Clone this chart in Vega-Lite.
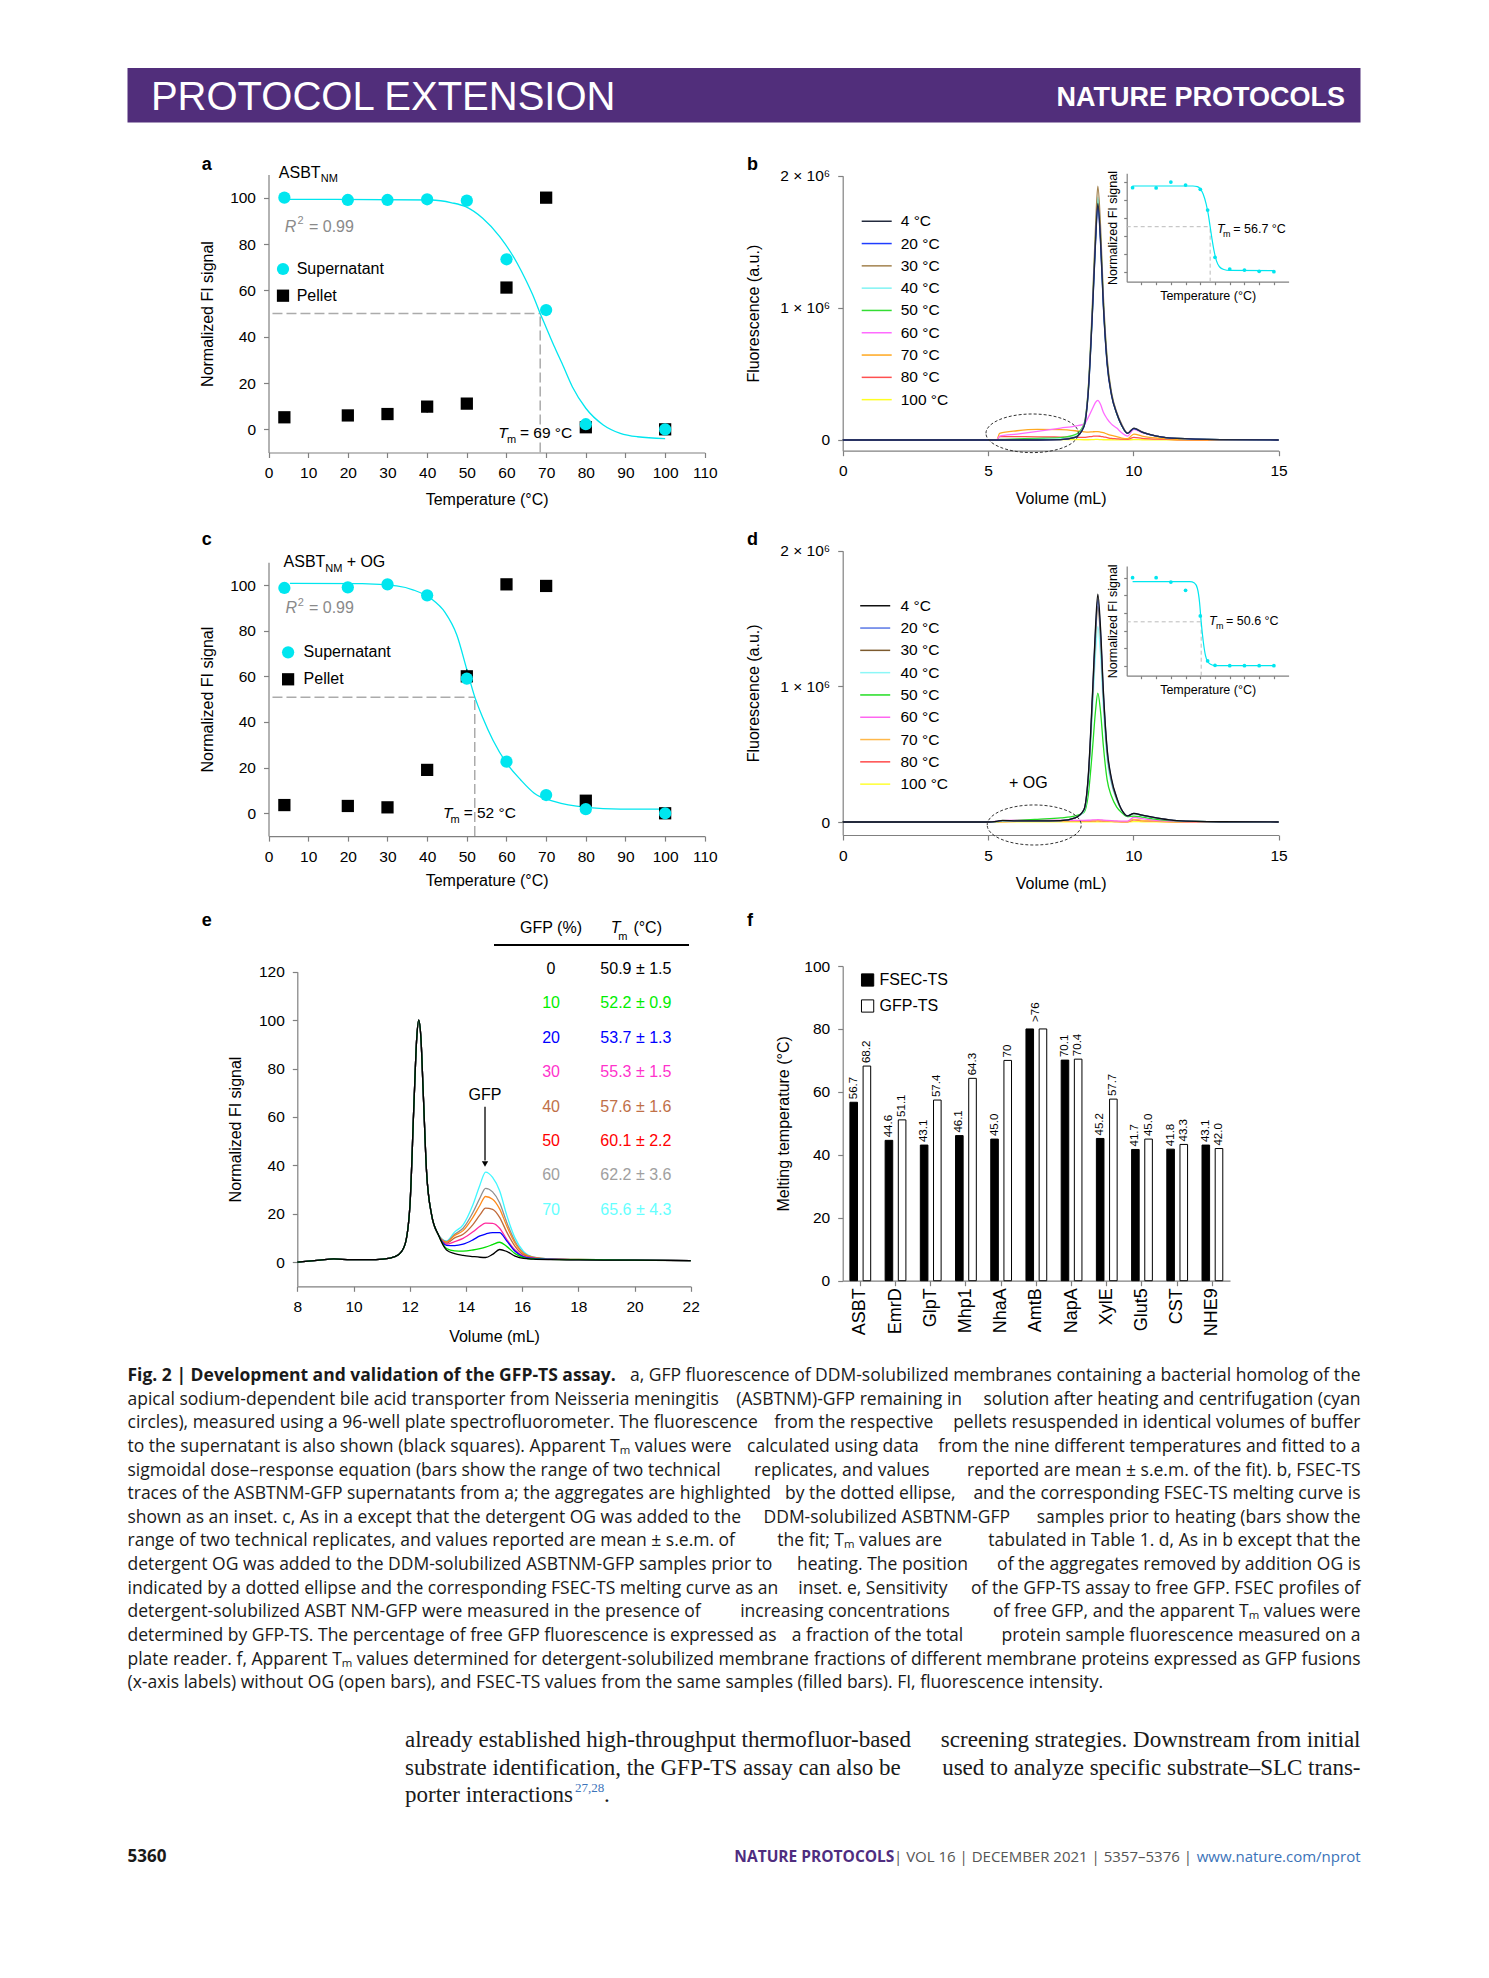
{
"$schema":"https://vega.github.io/schema/vega-lite/v6.json",
"width":1489,"height":1978,"padding":0,"autosize":{"type":"none"},"background":"white",
"data":{"values":[{}]},
"config":{
 "view":{"stroke":null},
 "font":"Liberation Sans",
 "axis":{"domainColor":"#808080","tickColor":"#808080","domainWidth":1.2,"tickWidth":1.2,"tickSize":5,"labelFont":"Liberation Sans","labelFontSize":15.5,"labelColor":"#000000","labelPadding":8,"labelFlush":false,"labelOverlap":false,"titleFont":"Liberation Sans","titleFontSize":16,"titleFontWeight":"normal","titleColor":"#000000","grid":false},
 "legend":{"labelFont":"Liberation Sans","labelColor":"#000000"},
 "text":{"font":"Liberation Sans","color":"#000000"}
},
"resolve":{"scale":{"x":"independent","y":"independent","color":"independent","shape":"independent","fill":"independent","xOffset":"independent"},"axis":{"x":"independent","y":"independent"},"legend":{"color":"independent","shape":"independent","fill":"independent"}},
"datasets":{
 "a":[{"T":4,"v":5.2,"type":"Pellet"},{"T":20,"v":6.0,"type":"Pellet"},{"T":30,"v":6.6,"type":"Pellet"},{"T":40,"v":9.8,"type":"Pellet"},{"T":50,"v":11.1,"type":"Pellet"},{"T":60,"v":61.2,"type":"Pellet"},{"T":70,"v":100,"type":"Pellet"},{"T":80,"v":0.9,"type":"Pellet"},{"T":100,"v":0,"type":"Pellet"},
      {"T":4,"v":100,"type":"Supernatant"},{"T":20,"v":99,"type":"Supernatant"},{"T":30,"v":99,"type":"Supernatant"},{"T":40,"v":99.3,"type":"Supernatant"},{"T":50,"v":98.7,"type":"Supernatant"},{"T":60,"v":73.4,"type":"Supernatant"},{"T":70,"v":51.5,"type":"Supernatant"},{"T":80,"v":2.2,"type":"Supernatant"},{"T":100,"v":0,"type":"Supernatant"}],
 "aFit":[{"T":5.4,"v":99.3},{"T":41,"v":99},{"T":46.2,"v":97.8},{"T":49.7,"v":96.1},{"T":54,"v":91.1},{"T":58.3,"v":83.2},{"T":62.7,"v":71.7},{"T":65,"v":64},{"T":67,"v":56.5},{"T":68.5,"v":50},{"T":70,"v":44},{"T":72,"v":36},{"T":74,"v":28.5},{"T":76.6,"v":18.4},{"T":80,"v":9.1},{"T":84.4,"v":1.9},{"T":88.7,"v":-1.7},{"T":93,"v":-3.2},{"T":100,"v":-4}],
 "aErr":[{"T":40,"lo":7.2,"hi":12}],
 "c":[{"T":4,"v":3.6,"type":"Pellet"},{"T":20,"v":3.2,"type":"Pellet"},{"T":30,"v":2.6,"type":"Pellet"},{"T":40,"v":19,"type":"Pellet"},{"T":50,"v":60,"type":"Pellet"},{"T":60,"v":100.3,"type":"Pellet"},{"T":70,"v":99.6,"type":"Pellet"},{"T":80,"v":5.5,"type":"Pellet"},{"T":100,"v":0,"type":"Pellet"},
      {"T":4,"v":98.7,"type":"Supernatant"},{"T":20,"v":99,"type":"Supernatant"},{"T":30,"v":100.3,"type":"Supernatant"},{"T":40,"v":95.5,"type":"Supernatant"},{"T":50,"v":59,"type":"Supernatant"},{"T":60,"v":22.6,"type":"Supernatant"},{"T":70,"v":8,"type":"Supernatant"},{"T":80,"v":1.8,"type":"Supernatant"},{"T":100,"v":0,"type":"Supernatant"}],
 "cFit":[{"T":5.4,"v":100.7},{"T":23.6,"v":100.6},{"T":32.3,"v":99.6},{"T":36.6,"v":97.8},{"T":41,"v":94},{"T":44.5,"v":88},{"T":47.5,"v":78},{"T":50,"v":63},{"T":52,"v":51},{"T":54,"v":42},{"T":56.6,"v":32},{"T":60,"v":22},{"T":63.6,"v":14.6},{"T":67,"v":8.8},{"T":72.2,"v":5.1},{"T":80,"v":2.6},{"T":88.7,"v":1.8},{"T":100,"v":1.8}],
 "cErr":[{"T":50,"lo":56.6,"hi":63.1}],
 "b":[
  {"v":0,"4 °C":0,"20 °C":0,"30 °C":0,"40 °C":0,"50 °C":0,"60 °C":0,"70 °C":0,"80 °C":0,"100 °C":0},
  {"v":5.0,"4 °C":0,"20 °C":0,"30 °C":0,"40 °C":0,"50 °C":0,"60 °C":0,"70 °C":0,"80 °C":0,"100 °C":0},
  {"v":5.3,"4 °C":0,"20 °C":0,"30 °C":0,"40 °C":0,"50 °C":0,"60 °C":0,"70 °C":0,"80 °C":0,"100 °C":0},
  {"v":5.4,"4 °C":0,"20 °C":0,"30 °C":0,"40 °C":0,"50 °C":0.005,"60 °C":0.03,"70 °C":0.05,"80 °C":0.025,"100 °C":0.002},
  {"v":6.0,"4 °C":0,"20 °C":0,"30 °C":0,"40 °C":0.002,"50 °C":0.008,"60 °C":0.045,"70 °C":0.07,"80 °C":0.025,"100 °C":0.003},
  {"v":6.7,"4 °C":0,"20 °C":0,"30 °C":0,"40 °C":0.005,"50 °C":0.012,"60 °C":0.065,"70 °C":0.08,"80 °C":0.024,"100 °C":0.003},
  {"v":7.5,"4 °C":0.003,"20 °C":0.003,"30 °C":0.003,"40 °C":0.008,"50 °C":0.018,"60 °C":0.09,"70 °C":0.078,"80 °C":0.022,"100 °C":0.003},
  {"v":8.0,"4 °C":0.02,"20 °C":0.02,"30 °C":0.02,"40 °C":0.025,"50 °C":0.04,"60 °C":0.105,"70 °C":0.07,"80 °C":0.02,"100 °C":0.003},
  {"v":8.3,"4 °C":0.1,"20 °C":0.1,"30 °C":0.11,"40 °C":0.11,"50 °C":0.12,"60 °C":0.12,"70 °C":0.062,"80 °C":0.02,"100 °C":0.002},
  {"v":8.45,"4 °C":0.36,"20 °C":0.36,"30 °C":0.39,"40 °C":0.37,"50 °C":0.38,"60 °C":0.17,"70 °C":0.06,"80 °C":0.024,"100 °C":0.002},
  {"v":8.6,"4 °C":1.0,"20 °C":0.99,"30 °C":1.07,"40 °C":1.03,"50 °C":1.02,"60 °C":0.24,"70 °C":0.062,"80 °C":0.028,"100 °C":0.003},
  {"v":8.7,"4 °C":1.5,"20 °C":1.49,"30 °C":1.61,"40 °C":1.54,"50 °C":1.53,"60 °C":0.285,"70 °C":0.063,"80 °C":0.03,"100 °C":0.004},
  {"v":8.78,"4 °C":1.79,"20 °C":1.77,"30 °C":1.92,"40 °C":1.84,"50 °C":1.82,"60 °C":0.3,"70 °C":0.063,"80 °C":0.03,"100 °C":0.004},
  {"v":8.87,"4 °C":1.52,"20 °C":1.5,"30 °C":1.63,"40 °C":1.56,"50 °C":1.55,"60 °C":0.27,"70 °C":0.06,"80 °C":0.028,"100 °C":0.003},
  {"v":8.97,"4 °C":1.02,"20 °C":1.01,"30 °C":1.09,"40 °C":1.05,"50 °C":1.04,"60 °C":0.21,"70 °C":0.055,"80 °C":0.024,"100 °C":0.002},
  {"v":9.1,"4 °C":0.58,"20 °C":0.57,"30 °C":0.62,"40 °C":0.6,"50 °C":0.59,"60 °C":0.16,"70 °C":0.045,"80 °C":0.018,"100 °C":0.002},
  {"v":9.25,"4 °C":0.34,"20 °C":0.34,"30 °C":0.36,"40 °C":0.35,"50 °C":0.35,"60 °C":0.12,"70 °C":0.035,"80 °C":0.012,"100 °C":0.002},
  {"v":9.43,"4 °C":0.2,"20 °C":0.2,"30 °C":0.21,"40 °C":0.2,"50 °C":0.2,"60 °C":0.09,"70 °C":0.025,"80 °C":0.009,"100 °C":0.001},
  {"v":9.6,"4 °C":0.11,"20 °C":0.11,"30 °C":0.12,"40 °C":0.11,"50 °C":0.11,"60 °C":0.055,"70 °C":0.015,"80 °C":0.006,"100 °C":0.001},
  {"v":9.8,"4 °C":0.05,"20 °C":0.05,"30 °C":0.053,"40 °C":0.05,"50 °C":0.05,"60 °C":0.03,"70 °C":0.01,"80 °C":0.005,"100 °C":0.001},
  {"v":10.02,"4 °C":0.088,"20 °C":0.087,"30 °C":0.09,"40 °C":0.088,"50 °C":0.088,"60 °C":0.08,"70 °C":0.045,"80 °C":0.02,"100 °C":0.003},
  {"v":10.3,"4 °C":0.06,"20 °C":0.06,"30 °C":0.062,"40 °C":0.06,"50 °C":0.06,"60 °C":0.055,"70 °C":0.03,"80 °C":0.012,"100 °C":0.002},
  {"v":10.8,"4 °C":0.03,"20 °C":0.03,"30 °C":0.03,"40 °C":0.03,"50 °C":0.03,"60 °C":0.03,"70 °C":0.015,"80 °C":0.006,"100 °C":0.001},
  {"v":11.5,"4 °C":0.012,"20 °C":0.012,"30 °C":0.012,"40 °C":0.012,"50 °C":0.012,"60 °C":0.012,"70 °C":0.005,"80 °C":0.002,"100 °C":0},
  {"v":13,"4 °C":0.003,"20 °C":0.003,"30 °C":0.003,"40 °C":0.003,"50 °C":0.003,"60 °C":0.003,"70 °C":0.001,"80 °C":0,"100 °C":0},
  {"v":15,"4 °C":0,"20 °C":0,"30 °C":0,"40 °C":0,"50 °C":0,"60 °C":0,"70 °C":0,"80 °C":0,"100 °C":0}],
 "bIn":[{"T":4,"v":93.3},{"T":20,"v":93},{"T":30,"v":99.6},{"T":40,"v":96.3},{"T":50,"v":91.5},{"T":55,"v":68.5},{"T":60,"v":16},{"T":70,"v":3},{"T":80,"v":1.8},{"T":90,"v":0.4},{"T":100,"v":0}],
 "bInFit":[{"T":4,"v":95.2},{"T":45,"v":95.2},{"T":48,"v":94.5},{"T":50,"v":92},{"T":52,"v":86},{"T":54,"v":75},{"T":55.5,"v":63},{"T":56.7,"v":50},{"T":58,"v":36},{"T":59.5,"v":22},{"T":61,"v":12},{"T":63,"v":5.5},{"T":66,"v":2.5},{"T":70,"v":1.5},{"T":100,"v":1.1}],
 "d":[
  {"v":0,"4 °C":0,"20 °C":0,"30 °C":0,"40 °C":0,"50 °C":0,"60 °C":0,"70 °C":0,"80 °C":0,"100 °C":0},
  {"v":5.0,"4 °C":0,"20 °C":0,"30 °C":0,"40 °C":0,"50 °C":0,"60 °C":0,"70 °C":0,"80 °C":0,"100 °C":0},
  {"v":5.3,"4 °C":0.005,"20 °C":0.004,"30 °C":0.004,"40 °C":0.003,"50 °C":0.003,"60 °C":0.005,"70 °C":0.002,"80 °C":0.002,"100 °C":0},
  {"v":5.5,"4 °C":0.012,"20 °C":0.01,"30 °C":0.01,"40 °C":0.008,"50 °C":0.008,"60 °C":0.01,"70 °C":0.004,"80 °C":0.003,"100 °C":0},
  {"v":6.0,"4 °C":0.008,"20 °C":0.008,"30 °C":0.008,"40 °C":0.008,"50 °C":0.012,"60 °C":0.014,"70 °C":0.005,"80 °C":0.004,"100 °C":0.001},
  {"v":6.7,"4 °C":0.008,"20 °C":0.008,"30 °C":0.008,"40 °C":0.008,"50 °C":0.02,"60 °C":0.015,"70 °C":0.005,"80 °C":0.004,"100 °C":0.001},
  {"v":7.5,"4 °C":0.01,"20 °C":0.01,"30 °C":0.01,"40 °C":0.01,"50 °C":0.03,"60 °C":0.014,"70 °C":0.005,"80 °C":0.004,"100 °C":0.001},
  {"v":8.0,"4 °C":0.03,"20 °C":0.03,"30 °C":0.03,"40 °C":0.03,"50 °C":0.045,"60 °C":0.012,"70 °C":0.005,"80 °C":0.004,"100 °C":0.001},
  {"v":8.3,"4 °C":0.09,"20 °C":0.09,"30 °C":0.09,"40 °C":0.08,"50 °C":0.07,"60 °C":0.012,"70 °C":0.006,"80 °C":0.005,"100 °C":0.001},
  {"v":8.45,"4 °C":0.34,"20 °C":0.33,"30 °C":0.32,"40 °C":0.29,"50 °C":0.2,"60 °C":0.013,"70 °C":0.008,"80 °C":0.006,"100 °C":0.001},
  {"v":8.6,"4 °C":0.97,"20 °C":0.95,"30 °C":0.92,"40 °C":0.84,"50 °C":0.55,"60 °C":0.015,"70 °C":0.01,"80 °C":0.008,"100 °C":0.002},
  {"v":8.7,"4 °C":1.44,"20 °C":1.41,"30 °C":1.37,"40 °C":1.24,"50 °C":0.82,"60 °C":0.016,"70 °C":0.012,"80 °C":0.009,"100 °C":0.002},
  {"v":8.78,"4 °C":1.68,"20 °C":1.64,"30 °C":1.59,"40 °C":1.44,"50 °C":0.95,"60 °C":0.017,"70 °C":0.012,"80 °C":0.01,"100 °C":0.002},
  {"v":8.87,"4 °C":1.44,"20 °C":1.41,"30 °C":1.37,"40 °C":1.24,"50 °C":0.82,"60 °C":0.016,"70 °C":0.011,"80 °C":0.009,"100 °C":0.002},
  {"v":8.97,"4 °C":0.97,"20 °C":0.95,"30 °C":0.92,"40 °C":0.84,"50 °C":0.56,"60 °C":0.014,"70 °C":0.009,"80 °C":0.007,"100 °C":0.001},
  {"v":9.1,"4 °C":0.54,"20 °C":0.53,"30 °C":0.51,"40 °C":0.46,"50 °C":0.31,"60 °C":0.012,"70 °C":0.007,"80 °C":0.006,"100 °C":0.001},
  {"v":9.25,"4 °C":0.32,"20 °C":0.31,"30 °C":0.3,"40 °C":0.28,"50 °C":0.19,"60 °C":0.01,"70 °C":0.005,"80 °C":0.004,"100 °C":0.001},
  {"v":9.43,"4 °C":0.18,"20 °C":0.18,"30 °C":0.17,"40 °C":0.16,"50 °C":0.11,"60 °C":0.008,"70 °C":0.004,"80 °C":0.003,"100 °C":0.001},
  {"v":9.6,"4 °C":0.09,"20 °C":0.09,"30 °C":0.09,"40 °C":0.085,"50 °C":0.07,"60 °C":0.006,"70 °C":0.003,"80 °C":0.002,"100 °C":0.001},
  {"v":9.8,"4 °C":0.045,"20 °C":0.045,"30 °C":0.045,"40 °C":0.045,"50 °C":0.04,"60 °C":0.006,"70 °C":0.003,"80 °C":0.002,"100 °C":0.001},
  {"v":10.02,"4 °C":0.064,"20 °C":0.063,"30 °C":0.062,"40 °C":0.06,"50 °C":0.044,"60 °C":0.035,"70 °C":0.02,"80 °C":0.015,"100 °C":0.003},
  {"v":10.3,"4 °C":0.05,"20 °C":0.05,"30 °C":0.05,"40 °C":0.048,"50 °C":0.036,"60 °C":0.025,"70 °C":0.012,"80 °C":0.01,"100 °C":0.002},
  {"v":10.8,"4 °C":0.03,"20 °C":0.03,"30 °C":0.03,"40 °C":0.028,"50 °C":0.02,"60 °C":0.012,"70 °C":0.006,"80 °C":0.005,"100 °C":0.001},
  {"v":11.5,"4 °C":0.01,"20 °C":0.01,"30 °C":0.01,"40 °C":0.01,"50 °C":0.008,"60 °C":0.005,"70 °C":0.002,"80 °C":0.002,"100 °C":0},
  {"v":13,"4 °C":0.002,"20 °C":0.002,"30 °C":0.002,"40 °C":0.002,"50 °C":0.002,"60 °C":0.001,"70 °C":0,"80 °C":0,"100 °C":0},
  {"v":15,"4 °C":0,"20 °C":0,"30 °C":0,"40 °C":0,"50 °C":0,"60 °C":0,"70 °C":0,"80 °C":0,"100 °C":0}],
 "dIn":[{"T":4,"v":100},{"T":20,"v":100},{"T":30,"v":95},{"T":40,"v":85.7},{"T":50,"v":56.6},{"T":55,"v":5.7},{"T":60,"v":0.8},{"T":70,"v":0.4},{"T":80,"v":0.4},{"T":90,"v":0.4},{"T":100,"v":0.4}],
 "dInFit":[{"T":4,"v":95.5},{"T":43,"v":95.5},{"T":46,"v":94},{"T":48,"v":88},{"T":49.5,"v":72},{"T":50.6,"v":50},{"T":52,"v":28},{"T":53.5,"v":12},{"T":55,"v":5},{"T":57,"v":2},{"T":60,"v":0.5},{"T":100,"v":0.4}],
 "e":[
  {"x":8,"0":0,"10":0,"20":0,"30":0,"40":0,"50":0,"60":0,"70":0},
  {"x":8.8,"0":0.8,"10":0.8,"20":0.8,"30":0.8,"40":0.8,"50":0.8,"60":0.8,"70":0.8},
  {"x":9.3,"0":1.3,"10":1.3,"20":1.3,"30":1.3,"40":1.3,"50":1.3,"60":1.3,"70":1.3},
  {"x":9.9,"0":1.0,"10":1.0,"20":1.0,"30":1.0,"40":1.0,"50":1.0,"60":1.0,"70":1.0},
  {"x":10.8,"0":1.0,"10":1.0,"20":1.0,"30":1.0,"40":1.0,"50":1.0,"60":1.0,"70":1.0},
  {"x":11.3,"0":1.6,"10":1.6,"20":1.6,"30":1.6,"40":1.6,"50":1.6,"60":1.6,"70":1.6},
  {"x":11.6,"0":3.0,"10":3.0,"20":3.0,"30":3.0,"40":3.0,"50":3.0,"60":3.0,"70":3.0},
  {"x":11.83,"0":7.2,"10":7.2,"20":7.2,"30":7.2,"40":7.2,"50":7.2,"60":7.2,"70":7.2},
  {"x":12.01,"0":23.7,"10":23.7,"20":23.7,"30":23.7,"40":23.7,"50":23.7,"60":23.7,"70":23.7},
  {"x":12.15,"0":65,"10":65,"20":65,"30":65,"40":65,"50":65,"60":65,"70":65},
  {"x":12.25,"0":92.5,"10":92.5,"20":92.5,"30":92.5,"40":92.5,"50":92.5,"60":92.5,"70":92.5},
  {"x":12.32,"0":100,"10":100,"20":100,"30":100,"40":100,"50":100,"60":100,"70":100},
  {"x":12.4,"0":92.5,"10":92.5,"20":92.5,"30":92.5,"40":92.5,"50":92.5,"60":92.5,"70":92.5},
  {"x":12.48,"0":70.5,"10":70.5,"20":70.5,"30":70.5,"40":70.5,"50":70.5,"60":70.5,"70":70.5},
  {"x":12.6,"0":37.4,"10":37.4,"20":37.4,"30":37.4,"40":37.4,"50":37.4,"60":37.4,"70":37.4},
  {"x":12.78,"0":19.5,"10":19.5,"20":19.5,"30":19.5,"40":19.5,"50":19.5,"60":19.5,"70":19.5},
  {"x":13.02,"0":11.3,"10":11.3,"20":11.3,"30":11.3,"40":11.3,"50":11.3,"60":11.3,"70":11.3},
  {"x":13.31,"0":5.0,"10":5.6,"20":6.9,"30":7.4,"40":7.8,"50":8.3,"60":8.5,"70":8.8},
  {"x":13.6,"0":3.5,"10":4.6,"20":6.8,"30":8.5,"40":10,"50":11,"60":11.5,"70":12.5},
  {"x":13.9,"0":2.8,"10":4.5,"20":7.4,"30":9.8,"40":11.5,"50":13,"60":14,"70":15.4},
  {"x":14.25,"0":2.3,"10":5.0,"20":9.2,"30":12.5,"40":15.5,"50":18.5,"60":20.5,"70":23.7},
  {"x":14.5,"0":2.0,"10":5.6,"20":10.8,"30":14.8,"40":19.5,"50":23.5,"60":26.5,"70":31.9},
  {"x":14.7,"0":1.9,"10":6.2,"20":11.6,"30":16.1,"40":22.3,"50":27.1,"60":30.5,"70":37.2},
  {"x":14.95,"0":3.2,"10":7.2,"20":12.2,"30":16.0,"40":21.8,"50":26,"60":29,"70":35},
  {"x":15.2,"0":5.2,"10":8.2,"20":12.2,"30":14.0,"40":18.5,"50":22,"60":24.5,"70":29.5},
  {"x":15.45,"0":4.4,"10":6.5,"20":8.8,"30":9.5,"40":12.5,"50":15,"60":16.5,"70":19.5},
  {"x":15.75,"0":2.5,"10":3.5,"20":4.5,"30":5.0,"40":6.5,"50":7.8,"60":8.5,"70":9.9},
  {"x":16.05,"0":1.5,"10":1.9,"20":2.2,"30":2.5,"40":3.0,"50":3.5,"60":3.8,"70":4.4},
  {"x":16.4,"0":1.2,"10":1.3,"20":1.5,"30":1.6,"40":1.8,"50":1.9,"60":2.0,"70":2.1},
  {"x":17.0,"0":1.0,"10":1.1,"20":1.2,"30":1.2,"40":1.2,"50":1.3,"60":1.3,"70":1.3},
  {"x":18.0,"0":0.9,"10":1.0,"20":1.0,"30":1.0,"40":1.0,"50":1.1,"60":1.1,"70":1.1},
  {"x":20,"0":0.8,"10":0.8,"20":0.8,"30":0.8,"40":0.8,"50":0.8,"60":0.8,"70":0.8},
  {"x":22,"0":0.6,"10":0.6,"20":0.6,"30":0.6,"40":0.6,"50":0.6,"60":0.6,"70":0.6}],
 "eT":[{"g":0,"tm":"50.9 ± 1.5"},{"g":10,"tm":"52.2 ± 0.9"},{"g":20,"tm":"53.7 ± 1.3"},{"g":30,"tm":"55.3 ± 1.5"},{"g":40,"tm":"57.6 ± 1.6"},{"g":50,"tm":"60.1 ± 2.2"},{"g":60,"tm":"62.2 ± 3.6"},{"g":70,"tm":"65.6 ± 4.3"}],
 "f":[{"p":"ASBT","s":"FSEC-TS","v":56.7,"lab":"56.7"},{"p":"ASBT","s":"GFP-TS","v":68.2,"lab":"68.2"},
      {"p":"EmrD","s":"FSEC-TS","v":44.6,"lab":"44.6"},{"p":"EmrD","s":"GFP-TS","v":51.1,"lab":"51.1"},
      {"p":"GlpT","s":"FSEC-TS","v":43.1,"lab":"43.1"},{"p":"GlpT","s":"GFP-TS","v":57.4,"lab":"57.4"},
      {"p":"Mhp1","s":"FSEC-TS","v":46.1,"lab":"46.1"},{"p":"Mhp1","s":"GFP-TS","v":64.3,"lab":"64.3"},
      {"p":"NhaA","s":"FSEC-TS","v":45.0,"lab":"45.0"},{"p":"NhaA","s":"GFP-TS","v":70,"lab":"70"},
      {"p":"AmtB","s":"FSEC-TS","v":80,"lab":""},{"p":"AmtB","s":"GFP-TS","v":80,"lab":""},
      {"p":"NapA","s":"FSEC-TS","v":70.1,"lab":"70.1"},{"p":"NapA","s":"GFP-TS","v":70.4,"lab":"70.4"},
      {"p":"XylE","s":"FSEC-TS","v":45.2,"lab":"45.2"},{"p":"XylE","s":"GFP-TS","v":57.7,"lab":"57.7"},
      {"p":"Glut5","s":"FSEC-TS","v":41.7,"lab":"41.7"},{"p":"Glut5","s":"GFP-TS","v":45.0,"lab":"45.0"},
      {"p":"CST","s":"FSEC-TS","v":41.8,"lab":"41.8"},{"p":"CST","s":"GFP-TS","v":43.3,"lab":"43.3"},
      {"p":"NHE9","s":"FSEC-TS","v":43.1,"lab":"43.1"},{"p":"NHE9","s":"GFP-TS","v":42.0,"lab":"42.0"}],
 "cap":[
  {"i":0,"l":"","r":"a, GFP fluorescence of DDM-solubilized membranes containing a bacterial homolog of the"},
  {"i":1,"l":"apical sodium-dependent bile acid transporter from Neisseria meningitis","r":"solution after heating and centrifugation (cyan"},
  {"i":2,"l":"circles), measured using a 96-well plate spectrofluorometer. The fluorescence","r":"pellets resuspended in identical volumes of buffer"},
  {"i":3,"l":"to the supernatant is also shown (black squares). Apparent Tₘ values were","r":"from the nine different temperatures and fitted to a"},
  {"i":4,"l":"sigmoidal dose–response equation (bars show the range of two technical","r":"reported are mean ± s.e.m. of the fit). b, FSEC-TS"},
  {"i":5,"l":"traces of the ASBTNM-GFP supernatants from a; the aggregates are highlighted","r":"and the corresponding FSEC-TS melting curve is"},
  {"i":6,"l":"shown as an inset. c, As in a except that the detergent OG was added to the","r":"samples prior to heating (bars show the"},
  {"i":7,"l":"range of two technical replicates, and values reported are mean ± s.e.m. of","r":"tabulated in Table 1. d, As in b except that the"},
  {"i":8,"l":"detergent OG was added to the DDM-solubilized ASBTNM-GFP samples prior to","r":"of the aggregates removed by addition OG is"},
  {"i":9,"l":"indicated by a dotted ellipse and the corresponding FSEC-TS melting curve as an","r":"of the GFP-TS assay to free GFP. FSEC profiles of"},
  {"i":10,"l":"detergent-solubilized ASBT NM-GFP were measured in the presence of","r":"of free GFP, and the apparent Tₘ values were"},
  {"i":11,"l":"determined by GFP-TS. The percentage of free GFP fluorescence is expressed as","r":"protein sample fluorescence measured on a"},
  {"i":12,"l":"plate reader. f, Apparent Tₘ values determined for detergent-solubilized membrane","r":"fractions of different membrane proteins expressed as GFP fusions"},
  {"i":13,"l":"(x-axis labels) without OG (open bars), and FSEC-TS values from the same samples (filled bars). FI, fluorescence intensity.","r":""}],
 "body":[
  {"i":0,"l":"already established high-throughput thermofluor-based","r":"screening strategies. Downstream from initial"},
  {"i":1,"l":"substrate identification, the GFP-TS assay can also be","r":"used to analyze specific substrate–SLC trans-"},
  {"i":2,"l":"porter interactions","r":""}]
},
"layer":[
 {"layer":[
  {"mark":{"type":"rect","color":"#512e7b"},"encoding":{"x":{"datum":0,"type":"quantitative","scale":{"domain":[0,1],"range":[127.5,1360.5],"nice":false,"zero":false},"axis":null},"x2":{"datum":1},"y":{"datum":0,"type":"quantitative","scale":{"domain":[0,1],"range":[122.4,68],"nice":false,"zero":false},"axis":null},"y2":{"datum":1}}},
  {"mark":{"type":"text","text":"PROTOCOL EXTENSION","align":"left","baseline":"middle","color":"#ffffff","fontSize":40},"encoding":{"x":{"datum":0.019,"type":"quantitative","axis":null},"y":{"datum":0.45,"type":"quantitative","axis":null}}},
  {"mark":{"type":"text","text":"NATURE PROTOCOLS","align":"right","baseline":"middle","color":"#ffffff","fontSize":27,"fontWeight":"bold"},"encoding":{"x":{"datum":0.9874,"type":"quantitative","axis":null},"y":{"datum":0.45,"type":"quantitative","axis":null}}}
 ]},
 {"layer":[
  {"mark":{"type":"rule","color":"#ababab","strokeWidth":1.5,"strokeDash":[10,4]},"encoding":{"x":{"datum":1,"type":"quantitative"},"x2":{"datum":68.5},"y":{"datum":50,"type":"quantitative"}}},
  {"mark":{"type":"rule","color":"#ababab","strokeWidth":1.5,"strokeDash":[10,4]},"encoding":{"x":{"datum":68.5,"type":"quantitative"},"y":{"datum":-10,"type":"quantitative"},"y2":{"datum":50}}},
  {"data":{"name":"aFit"},"mark":{"type":"line","color":"#00e6ef","strokeWidth":1.3,"interpolate":"monotone"},"encoding":{"x":{"field":"T","type":"quantitative"},"y":{"field":"v","type":"quantitative"}}},
  {"data":{"name":"aErr"},"mark":{"type":"rule","color":"#000000","strokeWidth":1},"encoding":{"x":{"field":"T","type":"quantitative"},"y":{"field":"lo","type":"quantitative"},"y2":{"field":"hi"}}},
  {"data":{"name":"a"},"mark":{"type":"point","filled":true,"size":150,"opacity":1},"encoding":{
    "x":{"field":"T","type":"quantitative","scale":{"domain":[0,110],"range":[268.5,704.8],"nice":false,"zero":false},"axis":{"orient":"bottom","offset":-1525.5,"values":[0,10,20,30,40,50,60,70,80,90,100,110],"format":"d","title":"Temperature (°C)","titlePadding":10}},
    "y":{"field":"v","type":"quantitative","scale":{"domain":[-10,110],"range":[452.5,174.5],"nice":false,"zero":false},"axis":{"orient":"left","offset":-268.5,"values":[0,20,40,60,80,100],"format":"d","title":"Normalized FI signal","titlePadding":14}},
    "shape":{"field":"type","type":"nominal","scale":{"domain":["Supernatant","Pellet"],"range":["circle","square"]},"legend":{"orient":"none","legendX":275,"legendY":261,"title":null,"symbolSize":150,"symbolStrokeWidth":0,"labelFontSize":16,"labelOffset":5.7,"rowPadding":10.7}},
    "color":{"field":"type","type":"nominal","scale":{"domain":["Supernatant","Pellet"],"range":["#00e6ef","#000000"]},"legend":{"orient":"none","legendX":275,"legendY":261,"title":null,"symbolSize":150,"symbolStrokeWidth":0,"labelFontSize":16,"labelOffset":5.7,"rowPadding":10.7}}}},
  {"mark":{"type":"text","text":"a","fontWeight":"bold","fontSize":18,"align":"left","baseline":"alphabetic"},"encoding":{"x":{"datum":-16.8,"type":"quantitative"},"y":{"datum":111.9,"type":"quantitative"}}},
  {"mark":{"type":"text","text":"ASBT","fontSize":16,"align":"left","baseline":"alphabetic"},"encoding":{"x":{"datum":2.6,"type":"quantitative"},"y":{"datum":108.4,"type":"quantitative"}}},
  {"mark":{"type":"text","text":"NM","fontSize":11,"align":"left","baseline":"alphabetic"},"encoding":{"x":{"datum":13.2,"type":"quantitative"},"y":{"datum":106.6,"type":"quantitative"}}},
  {"mark":{"type":"text","text":"R","fontSize":16,"fontStyle":"italic","color":"#8a8a8a","align":"left","baseline":"alphabetic"},"encoding":{"x":{"datum":4.1,"type":"quantitative"},"y":{"datum":85.3,"type":"quantitative"}}},
  {"mark":{"type":"text","text":"2","fontSize":11,"color":"#8a8a8a","align":"left","baseline":"alphabetic"},"encoding":{"x":{"datum":7.3,"type":"quantitative"},"y":{"datum":88.6,"type":"quantitative"}}},
  {"mark":{"type":"text","text":"= 0.99","fontSize":16,"color":"#8a8a8a","align":"left","baseline":"alphabetic"},"encoding":{"x":{"datum":10.2,"type":"quantitative"},"y":{"datum":85.3,"type":"quantitative"}}},
  {"mark":{"type":"text","text":"T","fontSize":15.5,"fontStyle":"italic","align":"left","baseline":"alphabetic"},"encoding":{"x":{"datum":57.9,"type":"quantitative"},"y":{"datum":-3.9,"type":"quantitative"}}},
  {"mark":{"type":"text","text":"m","fontSize":11,"align":"left","baseline":"alphabetic"},"encoding":{"x":{"datum":60.1,"type":"quantitative"},"y":{"datum":-5.8,"type":"quantitative"}}},
  {"mark":{"type":"text","text":"= 69 °C","fontSize":15.5,"align":"left","baseline":"alphabetic"},"encoding":{"x":{"datum":63.4,"type":"quantitative"},"y":{"datum":-3.9,"type":"quantitative"}}}
 ]},
 {"layer":[
  {"data":{"name":"b"},"transform":[{"fold":["100 °C","80 °C","70 °C","60 °C","50 °C","40 °C","30 °C","20 °C","4 °C"],"as":["temp","fl"]}],
   "mark":{"type":"line","strokeWidth":1.3,"interpolate":"monotone"},
   "encoding":{
    "x":{"field":"v","type":"quantitative","scale":{"domain":[0,15],"range":[842.7,1278.6],"nice":false,"zero":false},"axis":{"orient":"bottom","offset":-1527.3,"values":[0,5,10,15],"format":"d","title":"Volume (mL)","titlePadding":11}},
    "y":{"field":"fl","type":"quantitative","scale":{"domain":[-0.081,2.0],"range":[450.7,175.7],"nice":false,"zero":false},"axis":{"orient":"left","offset":-842.7,"values":[0,1,2],"labelExpr":"datum.value == 0 ? '0' : datum.value + ' × 10⁶'","title":"Fluorescence (a.u.)","titlePadding":18}},
    "color":{"field":"temp","type":"nominal","scale":{"domain":["4 °C","20 °C","30 °C","40 °C","50 °C","60 °C","70 °C","80 °C","100 °C"],"range":["#232a3d","#1f3dff","#a3834f","#80f3f3","#33dd33","#ff6bff","#ffa81f","#ff5050","#ffff22"]},
      "legend":{"orient":"none","legendX":868.95,"legendY":213.5,"title":null,"symbolType":"M-3,0H3","symbolSize":100,"symbolStrokeWidth":1.5,"labelFontSize":15.5,"labelOffset":16.25,"rowPadding":5.3}}}},
  {"mark":{"type":"point","shape":"M-1,0C-1,-0.231,-0.552,-0.418,0,-0.418C0.552,-0.418,1,-0.231,1,0C1,0.231,0.552,0.418,0,0.418C-0.552,0.418,-1,0.231,-1,0Z","size":8538,"filled":false,"color":"#333333","strokeWidth":1,"strokeDash":[3,2],"opacity":1},"encoding":{"x":{"datum":6.52,"type":"quantitative"},"y":{"datum":0.0507,"type":"quantitative"}}},
  {"mark":{"type":"text","text":"b","fontWeight":"bold","fontSize":18,"align":"left","baseline":"alphabetic"},"encoding":{"x":{"datum":-3.29,"type":"quantitative"},"y":{"datum":2.043,"type":"quantitative"}}}
 ]},
 {"layer":[
  {"mark":{"type":"rule","color":"#bbbbbb","strokeWidth":1,"strokeDash":[4,3]},"encoding":{"x":{"datum":0,"type":"quantitative"},"x2":{"datum":56.7},"y":{"datum":50,"type":"quantitative"}}},
  {"mark":{"type":"rule","color":"#bbbbbb","strokeWidth":1,"strokeDash":[4,3]},"encoding":{"x":{"datum":56.7,"type":"quantitative"},"y":{"datum":-11.1,"type":"quantitative"},"y2":{"datum":50}}},
  {"data":{"name":"bInFit"},"mark":{"type":"line","color":"#00e6ef","strokeWidth":1.2,"interpolate":"monotone"},"encoding":{"x":{"field":"T","type":"quantitative"},"y":{"field":"v","type":"quantitative"}}},
  {"data":{"name":"bIn"},"mark":{"type":"point","filled":true,"size":14,"color":"#00e6ef","opacity":1},"encoding":{
    "x":{"field":"T","type":"quantitative","scale":{"domain":[0,110],"range":[1126.7,1288.6],"nice":false,"zero":false},"axis":{"orient":"bottom","offset":-1696.3,"values":[10,20,30,40,50,60,70,80,90,100],"labels":false,"tickSize":3,"title":"Temperature (°C)","titleFontSize":12.5,"titlePadding":4}},
    "y":{"field":"v","type":"quantitative","scale":{"domain":[-11.1,109.3],"range":[281.7,173.3],"nice":false,"zero":false},"axis":{"orient":"left","offset":-1126.7,"values":[0,20,40,60,80,100],"labels":false,"tickSize":3,"title":"Normalized FI signal","titleFontSize":12.5,"titlePadding":4}}}},
  {"mark":{"type":"text","text":"T","fontSize":12.5,"fontStyle":"italic","align":"left","baseline":"alphabetic"},"encoding":{"x":{"datum":61.4,"type":"quantitative"},"y":{"datum":42.7,"type":"quantitative"}}},
  {"mark":{"type":"text","text":"m","fontSize":9,"align":"left","baseline":"alphabetic"},"encoding":{"x":{"datum":65.5,"type":"quantitative"},"y":{"datum":38.2,"type":"quantitative"}}},
  {"mark":{"type":"text","text":"= 56.7 °C","fontSize":12.5,"align":"left","baseline":"alphabetic"},"encoding":{"x":{"datum":72.4,"type":"quantitative"},"y":{"datum":42.7,"type":"quantitative"}}}
 ]},
 {"layer":[
  {"mark":{"type":"rule","color":"#ababab","strokeWidth":1.5,"strokeDash":[10,4]},"encoding":{"x":{"datum":1,"type":"quantitative"},"x2":{"datum":52},"y":{"datum":50.8,"type":"quantitative"}}},
  {"mark":{"type":"rule","color":"#ababab","strokeWidth":1.5,"strokeDash":[10,4]},"encoding":{"x":{"datum":52,"type":"quantitative"},"y":{"datum":-10,"type":"quantitative"},"y2":{"datum":50.8}}},
  {"data":{"name":"cFit"},"mark":{"type":"line","color":"#00e6ef","strokeWidth":1.3,"interpolate":"monotone"},"encoding":{"x":{"field":"T","type":"quantitative"},"y":{"field":"v","type":"quantitative"}}},
  {"data":{"name":"cErr"},"mark":{"type":"rule","color":"#000000","strokeWidth":1},"encoding":{"x":{"field":"T","type":"quantitative"},"y":{"field":"lo","type":"quantitative"},"y2":{"field":"hi"}}},
  {"data":{"name":"c"},"mark":{"type":"point","filled":true,"size":150,"opacity":1},"encoding":{
    "x":{"field":"T","type":"quantitative","scale":{"domain":[0,110],"range":[268.5,704.8],"nice":false,"zero":false},"axis":{"orient":"bottom","offset":-1141.9,"values":[0,10,20,30,40,50,60,70,80,90,100,110],"format":"d","title":"Temperature (°C)","titlePadding":8.3}},
    "y":{"field":"v","type":"quantitative","scale":{"domain":[-10,110],"range":[836.1,562.2],"nice":false,"zero":false},"axis":{"orient":"left","offset":-268.5,"values":[0,20,40,60,80,100],"format":"d","title":"Normalized FI signal","titlePadding":14}},
    "shape":{"field":"type","type":"nominal","scale":{"domain":["Supernatant","Pellet"],"range":["circle","square"]},"legend":{"orient":"none","legendX":280.1,"legendY":644.3,"title":null,"symbolSize":150,"symbolStrokeWidth":0,"labelFontSize":16,"labelOffset":7.5,"rowPadding":11}},
    "color":{"field":"type","type":"nominal","scale":{"domain":["Supernatant","Pellet"],"range":["#00e6ef","#000000"]},"legend":{"orient":"none","legendX":280.1,"legendY":644.3,"title":null,"symbolSize":150,"symbolStrokeWidth":0,"labelFontSize":16,"labelOffset":7.5,"rowPadding":11}}}},
  {"mark":{"type":"text","text":"c","fontWeight":"bold","fontSize":18,"align":"left","baseline":"alphabetic"},"encoding":{"x":{"datum":-16.8,"type":"quantitative"},"y":{"datum":117.5,"type":"quantitative"}}},
  {"mark":{"type":"text","text":"ASBT","fontSize":16,"align":"left","baseline":"alphabetic"},"encoding":{"x":{"datum":3.8,"type":"quantitative"},"y":{"datum":107.8,"type":"quantitative"}}},
  {"mark":{"type":"text","text":"NM","fontSize":11,"align":"left","baseline":"alphabetic"},"encoding":{"x":{"datum":14.3,"type":"quantitative"},"y":{"datum":105.8,"type":"quantitative"}}},
  {"mark":{"type":"text","text":"+ OG","fontSize":16,"align":"left","baseline":"alphabetic"},"encoding":{"x":{"datum":19.7,"type":"quantitative"},"y":{"datum":107.8,"type":"quantitative"}}},
  {"mark":{"type":"text","text":"R","fontSize":16,"fontStyle":"italic","color":"#8a8a8a","align":"left","baseline":"alphabetic"},"encoding":{"x":{"datum":4.3,"type":"quantitative"},"y":{"datum":87.6,"type":"quantitative"}}},
  {"mark":{"type":"text","text":"2","fontSize":11,"color":"#8a8a8a","align":"left","baseline":"alphabetic"},"encoding":{"x":{"datum":7.4,"type":"quantitative"},"y":{"datum":90.8,"type":"quantitative"}}},
  {"mark":{"type":"text","text":"= 0.99","fontSize":16,"color":"#8a8a8a","align":"left","baseline":"alphabetic"},"encoding":{"x":{"datum":10.2,"type":"quantitative"},"y":{"datum":87.6,"type":"quantitative"}}},
  {"mark":{"type":"text","text":"T","fontSize":15.5,"fontStyle":"italic","align":"left","baseline":"alphabetic"},"encoding":{"x":{"datum":44.0,"type":"quantitative"},"y":{"datum":-2.2,"type":"quantitative"}}},
  {"mark":{"type":"text","text":"m","fontSize":11,"align":"left","baseline":"alphabetic"},"encoding":{"x":{"datum":45.9,"type":"quantitative"},"y":{"datum":-4.1,"type":"quantitative"}}},
  {"mark":{"type":"text","text":"= 52 °C","fontSize":15.5,"align":"left","baseline":"alphabetic"},"encoding":{"x":{"datum":49.2,"type":"quantitative"},"y":{"datum":-2.2,"type":"quantitative"}}}
 ]},
 {"layer":[
  {"data":{"name":"d"},"transform":[{"fold":["100 °C","80 °C","70 °C","60 °C","50 °C","40 °C","30 °C","20 °C","4 °C"],"as":["temp","fl"]}],
   "mark":{"type":"line","strokeWidth":1.3,"interpolate":"monotone"},
   "encoding":{
    "x":{"field":"v","type":"quantitative","scale":{"domain":[0,15],"range":[842.7,1278.6],"nice":false,"zero":false},"axis":{"orient":"bottom","offset":-1143,"values":[0,5,10,15],"format":"d","title":"Volume (mL)","titlePadding":11.8}},
    "y":{"field":"fl","type":"quantitative","scale":{"domain":[-0.0958,2.0],"range":[835,550.7],"nice":false,"zero":false},"axis":{"orient":"left","offset":-842.7,"values":[0,1,2],"labelExpr":"datum.value == 0 ? '0' : datum.value + ' × 10⁶'","title":"Fluorescence (a.u.)","titlePadding":18}},
    "color":{"field":"temp","type":"nominal","scale":{"domain":["4 °C","20 °C","30 °C","40 °C","50 °C","60 °C","70 °C","80 °C","100 °C"],"range":["#111111","#5a78e6","#7c5a2e","#8cf7f7","#22dd22","#ff66f0","#ffb84a","#ff4a4a","#ffff33"]},
      "legend":{"orient":"none","legendX":867.45,"legendY":598,"title":null,"symbolType":"M-3,0H3","symbolSize":100,"symbolStrokeWidth":1.5,"labelFontSize":15.5,"labelOffset":17.55,"rowPadding":5.3}}}},
  {"mark":{"type":"point","shape":"M-1,0C-1,-0.235,-0.552,-0.426,0,-0.426C0.552,-0.426,1,-0.235,1,0C1,0.235,0.552,0.426,0,0.426C-0.552,0.426,-1,0.235,-1,0Z","size":8836,"filled":false,"color":"#333333","strokeWidth":1,"strokeDash":[3,2],"opacity":1},"encoding":{"x":{"datum":6.59,"type":"quantitative"},"y":{"datum":-0.022,"type":"quantitative"}}},
  {"mark":{"type":"text","text":"+ OG","fontSize":16,"align":"center","baseline":"middle"},"encoding":{"x":{"datum":6.39,"type":"quantitative"},"y":{"datum":0.285,"type":"quantitative"}}},
  {"mark":{"type":"text","text":"d","fontWeight":"bold","fontSize":18,"align":"left","baseline":"alphabetic"},"encoding":{"x":{"datum":-3.29,"type":"quantitative"},"y":{"datum":2.042,"type":"quantitative"}}}
 ]},
 {"layer":[
  {"mark":{"type":"rule","color":"#bbbbbb","strokeWidth":1,"strokeDash":[4,3]},"encoding":{"x":{"datum":0,"type":"quantitative"},"x2":{"datum":50.6},"y":{"datum":50,"type":"quantitative"}}},
  {"mark":{"type":"rule","color":"#bbbbbb","strokeWidth":1,"strokeDash":[4,3]},"encoding":{"x":{"datum":50.6,"type":"quantitative"},"y":{"datum":-11,"type":"quantitative"},"y2":{"datum":50}}},
  {"data":{"name":"dInFit"},"mark":{"type":"line","color":"#00e6ef","strokeWidth":1.2,"interpolate":"monotone"},"encoding":{"x":{"field":"T","type":"quantitative"},"y":{"field":"v","type":"quantitative"}}},
  {"data":{"name":"dIn"},"mark":{"type":"point","filled":true,"size":14,"color":"#00e6ef","opacity":1},"encoding":{
    "x":{"field":"T","type":"quantitative","scale":{"domain":[0,110],"range":[1126.7,1288.6],"nice":false,"zero":false},"axis":{"orient":"bottom","offset":-1302.3,"values":[10,20,30,40,50,60,70,80,90,100],"labels":false,"tickSize":3,"title":"Temperature (°C)","titleFontSize":12.5,"titlePadding":4}},
    "y":{"field":"v","type":"quantitative","scale":{"domain":[-11,113.2],"range":[675.7,566],"nice":false,"zero":false},"axis":{"orient":"left","offset":-1126.7,"values":[0,20,40,60,80,100],"labels":false,"tickSize":3,"title":"Normalized FI signal","titleFontSize":12.5,"titlePadding":4}}}},
  {"mark":{"type":"text","text":"T","fontSize":12.5,"fontStyle":"italic","align":"left","baseline":"alphabetic"},"encoding":{"x":{"datum":56.0,"type":"quantitative"},"y":{"datum":46.4,"type":"quantitative"}}},
  {"mark":{"type":"text","text":"m","fontSize":9,"align":"left","baseline":"alphabetic"},"encoding":{"x":{"datum":60.6,"type":"quantitative"},"y":{"datum":41.9,"type":"quantitative"}}},
  {"mark":{"type":"text","text":"= 50.6 °C","fontSize":12.5,"align":"left","baseline":"alphabetic"},"encoding":{"x":{"datum":67.5,"type":"quantitative"},"y":{"datum":46.4,"type":"quantitative"}}}
 ]},
 {"layer":[
  {"data":{"name":"e"},"transform":[{"fold":["70","60","50","40","30","20","10","0"],"as":["gfp","nfi"]}],
   "mark":{"type":"line","strokeWidth":1.3,"interpolate":"monotone"},
   "encoding":{
    "x":{"field":"x","type":"quantitative","scale":{"domain":[8,22],"range":[297.3,690.7],"nice":false,"zero":false},"axis":{"orient":"bottom","offset":-691.7,"values":[8,10,12,14,16,18,20,22],"format":"d","title":"Volume (mL)","titlePadding":13.8}},
    "y":{"field":"nfi","type":"quantitative","scale":{"domain":[-10,120],"range":[1286.3,971.7],"nice":false,"zero":false},"axis":{"orient":"left","offset":-297.3,"values":[0,20,40,60,80,100,120],"format":"d","title":"Normalized FI signal","titlePadding":14.5}},
    "color":{"field":"gfp","type":"nominal","scale":{"domain":["0","10","20","30","40","50","60","70"],"range":["#000000","#00dd00","#0000ff","#ff2a9d","#c06a3a","#ff8a1a","#8f8f8f","#3ff7ff"]},"legend":null}}},
  {"mark":{"type":"rule","color":"#000000","strokeWidth":1.3},"encoding":{"x":{"datum":14.68,"type":"quantitative"},"y":{"datum":64.2,"type":"quantitative"},"y2":{"datum":42}}},
  {"mark":{"type":"point","shape":"triangle-down","size":40,"filled":true,"color":"#000000","opacity":1},"encoding":{"x":{"datum":14.68,"type":"quantitative"},"y":{"datum":40.5,"type":"quantitative"}}},
  {"mark":{"type":"text","text":"GFP","fontSize":16,"align":"center","baseline":"middle"},"encoding":{"x":{"datum":14.68,"type":"quantitative"},"y":{"datum":69.1,"type":"quantitative"}}},
  {"mark":{"type":"text","text":"e","fontWeight":"bold","fontSize":18,"align":"left","baseline":"alphabetic"},"encoding":{"x":{"datum":4.6,"type":"quantitative"},"y":{"datum":139,"type":"quantitative"}}}
 ]},
 {"layer":[
  {"data":{"name":"eT"},"mark":{"type":"text","align":"center","baseline":"middle","fontSize":16},"encoding":{
    "x":{"datum":17.03,"type":"quantitative","scale":{"domain":[8,22],"range":[297.3,690.7],"nice":false,"zero":false},"axis":null},
    "y":{"field":"g","type":"quantitative","scale":{"domain":[0,70],"range":[969,1209.7],"nice":false,"zero":false},"axis":null},
    "text":{"field":"g","type":"quantitative"},
    "color":{"field":"g","type":"nominal","scale":{"domain":[0,10,20,30,40,50,60,70],"range":["#000000","#00ee00","#0000ff","#ff33cc","#c07048","#ff0000","#a0a0a0","#66ffff"]},"legend":null}}},
  {"data":{"name":"eT"},"mark":{"type":"text","align":"center","baseline":"middle","fontSize":16},"encoding":{
    "x":{"datum":20.05,"type":"quantitative","axis":null},
    "y":{"field":"g","type":"quantitative","axis":null},
    "text":{"field":"tm"},
    "color":{"field":"g","type":"nominal","legend":null}}},
  {"mark":{"type":"text","text":"GFP (%)","fontSize":16,"align":"center","baseline":"middle"},"encoding":{"x":{"datum":17.03,"type":"quantitative","axis":null},"y":{"datum":-11.8,"type":"quantitative","axis":null}}},
  {"mark":{"type":"text","text":"T","fontSize":16,"fontStyle":"italic","align":"left","baseline":"middle"},"encoding":{"x":{"datum":19.153,"type":"quantitative","axis":null},"y":{"datum":-11.8,"type":"quantitative","axis":null}}},
  {"mark":{"type":"text","text":"m","fontSize":11,"align":"left","baseline":"middle"},"encoding":{"x":{"datum":19.42,"type":"quantitative","axis":null},"y":{"datum":-9.4,"type":"quantitative","axis":null}}},
  {"mark":{"type":"text","text":"(°C)","fontSize":16,"align":"left","baseline":"middle"},"encoding":{"x":{"datum":19.96,"type":"quantitative","axis":null},"y":{"datum":-11.8,"type":"quantitative","axis":null}}},
  {"mark":{"type":"rule","color":"#000000","strokeWidth":2},"encoding":{"x":{"datum":15.0,"type":"quantitative","axis":null},"x2":{"datum":21.94},"y":{"datum":-7.0,"type":"quantitative","axis":null}}}
 ]},
 {"layer":[
  {"data":{"name":"f"},"mark":{"type":"bar","stroke":"#000000","strokeWidth":1},"encoding":{
    "x":{"field":"p","type":"nominal","sort":null,"scale":{"range":[842.7,1230],"paddingInner":0.41,"paddingOuter":0.205},"axis":{"orient":"bottom","offset":-697.3,"labelAngle":270,"labelFontSize":18,"labelPadding":2,"title":null}},
    "xOffset":{"field":"s","type":"nominal","sort":["FSEC-TS","GFP-TS"],"scale":{"paddingInner":0.424}},
    "y":{"field":"v","type":"quantitative","scale":{"domain":[0,100],"range":[1280.7,966],"nice":false,"zero":false},"axis":{"orient":"left","offset":-842.7,"values":[0,20,40,60,80,100],"format":"d","title":"Melting temperature (°C)","titlePadding":12.4}},
    "fill":{"field":"s","type":"nominal","scale":{"domain":["FSEC-TS","GFP-TS"],"range":["#000000","#ffffff"]},"legend":{"orient":"none","legendX":859.6,"legendY":972,"title":null,"symbolType":"square","symbolSize":150,"symbolStrokeColor":"#000000","symbolStrokeWidth":1,"labelFontSize":16,"labelOffset":4,"rowPadding":8}}}},
  {"data":{"name":"f"},"mark":{"type":"text","angle":270,"align":"left","baseline":"middle","dx":3,"fontSize":11.5},"encoding":{
    "x":{"field":"p","type":"nominal","sort":null},
    "xOffset":{"field":"s","type":"nominal","sort":["FSEC-TS","GFP-TS"]},
    "y":{"field":"v","type":"quantitative"},
    "text":{"field":"lab"}}},
  {"mark":{"type":"text","text":">76","angle":270,"align":"left","baseline":"middle","dx":7,"fontSize":11.5},"encoding":{"x":{"datum":"AmtB","type":"nominal"},"y":{"datum":80,"type":"quantitative"}}},
  {"mark":{"type":"text","text":"f","fontWeight":"bold","fontSize":18,"align":"left","baseline":"alphabetic","dx":-113.3},"encoding":{"x":{"datum":"ASBT","type":"nominal"},"y":{"datum":112.8,"type":"quantitative"}}}
 ]},
 {"layer":[
  {"data":{"name":"cap"},"mark":{"type":"text","align":"left","baseline":"middle","font":"Open Sans","fontSize":17.5,"color":"#1a1a1a"},"encoding":{
    "x":{"datum":0,"type":"quantitative","scale":{"domain":[0,1],"range":[127.5,1360.5],"nice":false,"zero":false},"axis":null},
    "y":{"field":"i","type":"quantitative","scale":{"domain":[0,13],"range":[1376,1683.3],"nice":false,"zero":false},"axis":null},
    "text":{"field":"l"}}},
  {"data":{"name":"cap"},"mark":{"type":"text","align":"right","baseline":"middle","font":"Open Sans","fontSize":17.5,"color":"#1a1a1a"},"encoding":{
    "x":{"datum":1,"type":"quantitative","axis":null},
    "y":{"field":"i","type":"quantitative","axis":null},
    "text":{"field":"r"}}},
  {"mark":{"type":"text","text":"Fig. 2 | Development and validation of the GFP-TS assay.","align":"left","baseline":"middle","font":"Open Sans","fontSize":17.5,"fontWeight":"bold","color":"#1a1a1a"},"encoding":{"x":{"datum":0,"type":"quantitative","axis":null},"y":{"datum":0,"type":"quantitative","axis":null}}},
  {"mark":{"type":"text","text":"(ASBTNM)-GFP remaining in","align":"left","baseline":"middle","font":"Open Sans","fontSize":17.5,"color":"#1a1a1a"},"encoding":{"x":{"datum":0.4938,"type":"quantitative","axis":null},"y":{"datum":1,"type":"quantitative","axis":null}}},
  {"mark":{"type":"text","text":"from the respective","align":"left","baseline":"middle","font":"Open Sans","fontSize":17.5,"color":"#1a1a1a"},"encoding":{"x":{"datum":0.5245,"type":"quantitative","axis":null},"y":{"datum":2,"type":"quantitative","axis":null}}},
  {"mark":{"type":"text","text":"calculated using data","align":"left","baseline":"middle","font":"Open Sans","fontSize":17.5,"color":"#1a1a1a"},"encoding":{"x":{"datum":0.5025,"type":"quantitative","axis":null},"y":{"datum":3,"type":"quantitative","axis":null}}},
  {"mark":{"type":"text","text":"replicates, and values","align":"left","baseline":"middle","font":"Open Sans","fontSize":17.5,"color":"#1a1a1a"},"encoding":{"x":{"datum":0.5081,"type":"quantitative","axis":null},"y":{"datum":4,"type":"quantitative","axis":null}}},
  {"mark":{"type":"text","text":"by the dotted ellipse,","align":"left","baseline":"middle","font":"Open Sans","fontSize":17.5,"color":"#1a1a1a"},"encoding":{"x":{"datum":0.5332,"type":"quantitative","axis":null},"y":{"datum":5,"type":"quantitative","axis":null}}},
  {"mark":{"type":"text","text":"DDM-solubilized ASBTNM-GFP","align":"left","baseline":"middle","font":"Open Sans","fontSize":17.5,"color":"#1a1a1a"},"encoding":{"x":{"datum":0.5158,"type":"quantitative","axis":null},"y":{"datum":6,"type":"quantitative","axis":null}}},
  {"mark":{"type":"text","text":"the fit; Tₘ values are","align":"left","baseline":"middle","font":"Open Sans","fontSize":17.5,"color":"#1a1a1a"},"encoding":{"x":{"datum":0.527,"type":"quantitative","axis":null},"y":{"datum":7,"type":"quantitative","axis":null}}},
  {"mark":{"type":"text","text":"heating. The position","align":"left","baseline":"middle","font":"Open Sans","fontSize":17.5,"color":"#1a1a1a"},"encoding":{"x":{"datum":0.5429,"type":"quantitative","axis":null},"y":{"datum":8,"type":"quantitative","axis":null}}},
  {"mark":{"type":"text","text":"inset. e, Sensitivity","align":"left","baseline":"middle","font":"Open Sans","fontSize":17.5,"color":"#1a1a1a"},"encoding":{"x":{"datum":0.544,"type":"quantitative","axis":null},"y":{"datum":9,"type":"quantitative","axis":null}}},
  {"mark":{"type":"text","text":"increasing concentrations","align":"left","baseline":"middle","font":"Open Sans","fontSize":17.5,"color":"#1a1a1a"},"encoding":{"x":{"datum":0.4969,"type":"quantitative","axis":null},"y":{"datum":10,"type":"quantitative","axis":null}}},
  {"mark":{"type":"text","text":"a fraction of the total","align":"left","baseline":"middle","font":"Open Sans","fontSize":17.5,"color":"#1a1a1a"},"encoding":{"x":{"datum":0.5388,"type":"quantitative","axis":null},"y":{"datum":11,"type":"quantitative","axis":null}}}
 ]},
 {"layer":[
  {"data":{"name":"body"},"mark":{"type":"text","align":"left","baseline":"middle","font":"Liberation Serif","fontSize":23,"color":"#1a1a1a"},"encoding":{
    "x":{"datum":0,"type":"quantitative","scale":{"domain":[0,1],"range":[405,1360.5],"nice":false,"zero":false},"axis":null},
    "y":{"field":"i","type":"quantitative","scale":{"domain":[0,2],"range":[1740,1795],"nice":false,"zero":false},"axis":null},
    "text":{"field":"l"}}},
  {"data":{"name":"body"},"mark":{"type":"text","align":"right","baseline":"middle","font":"Liberation Serif","fontSize":23,"color":"#1a1a1a"},"encoding":{
    "x":{"datum":1,"type":"quantitative","axis":null},
    "y":{"field":"i","type":"quantitative","axis":null},
    "text":{"field":"r"}}},
  {"mark":{"type":"text","text":"27,28","align":"left","baseline":"middle","font":"Liberation Serif","fontSize":13,"color":"#3b73b9"},"encoding":{"x":{"datum":0.178,"type":"quantitative","axis":null},"y":{"datum":1.745,"type":"quantitative","axis":null}}},
  {"mark":{"type":"text","text":".","align":"left","baseline":"middle","font":"Liberation Serif","fontSize":23,"color":"#1a1a1a"},"encoding":{"x":{"datum":0.2083,"type":"quantitative","axis":null},"y":{"datum":2,"type":"quantitative","axis":null}}}
 ]},
 {"layer":[
  {"mark":{"type":"text","text":"5360","align":"left","baseline":"middle","font":"Open Sans","fontSize":17,"fontWeight":"bold","color":"#1a1a1a"},"encoding":{
    "x":{"datum":0,"type":"quantitative","scale":{"domain":[0,1],"range":[127.5,1360.5],"nice":false,"zero":false},"axis":null},
    "y":{"datum":0,"type":"quantitative","scale":{"domain":[0,1],"range":[1856.7,1800],"nice":false,"zero":false},"axis":null}}},
  {"mark":{"type":"text","text":"NATURE PROTOCOLS","align":"right","baseline":"middle","font":"Open Sans","fontSize":15.5,"fontWeight":"bold","color":"#4f2d7f"},"encoding":{"x":{"datum":0.622,"type":"quantitative","axis":null},"y":{"datum":0,"type":"quantitative","axis":null}}},
  {"mark":{"type":"text","text":"| VOL 16 | DECEMBER 2021 | 5357–5376 | ","align":"right","baseline":"middle","font":"Open Sans","fontSize":15,"color":"#555555"},"encoding":{"x":{"datum":0.8633,"type":"quantitative","axis":null},"y":{"datum":0,"type":"quantitative","axis":null}}},
  {"mark":{"type":"text","text":"www.nature.com/nprot","align":"right","baseline":"middle","font":"Open Sans","fontSize":15,"color":"#3b73b9"},"encoding":{"x":{"datum":1,"type":"quantitative","axis":null},"y":{"datum":0,"type":"quantitative","axis":null}}}
 ]}
]
}
